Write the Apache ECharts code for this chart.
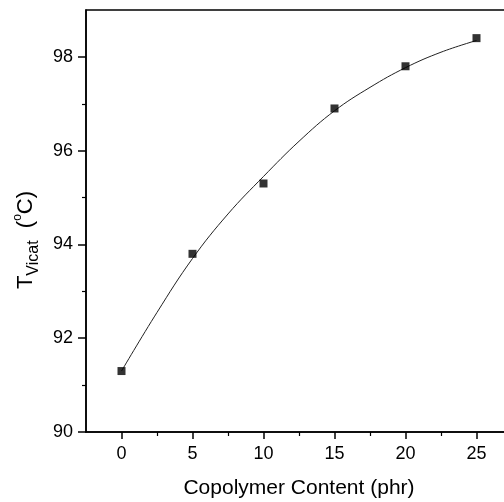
<!DOCTYPE html>
<html>
<head>
<meta charset="utf-8">
<script src="https://cdn.jsdelivr.net/npm/echarts@6/dist/echarts.min.js"></script>
<style>
  html, body { margin: 0; padding: 0; background: #fff; }
  #chart { width: 504px; height: 502px; }
</style>
</head>
<body>
<div id="chart"></div>
<script>
// measured points
const contentPhr = [0, 5, 10, 15, 20, 25];
const vicatTemp = [91.3, 93.8, 95.3, 96.9, 97.8, 98.4];
// fitted curve
const fitPhr = [0, 2.5, 5, 7.5, 10, 12.5, 15, 17.5, 20, 22.5, 25];
const fitTemp = [91.3, 92.55, 93.7, 94.65, 95.45, 96.2, 96.85, 97.35, 97.77, 98.1, 98.35];
// ticks
const xMajor = [0, 5, 10, 15, 20, 25];
const xMinor = [2.5, 7.5, 12.5, 17.5, 22.5];
const yMajor = [90, 92, 94, 96, 98];
const yMinor = [91, 93, 95, 97];

const font = "'Liberation Sans', Arial, sans-serif";

let myChart = echarts.init(document.getElementById("chart"));

let option = {
  backgroundColor: "#fff",
  animation: false,
  grid: {
    left: 86,
    top: 10,
    width: 426, // the right edge of the frame falls outside the picture
    bottom: 70,
    outerBoundsMode: "none",
    show: true,
    borderColor: "#000",
    borderWidth: 1.5
  },
  xAxis: [
    {
      type: "value",
      min: -2.5,
      max: 27.5,
      axisLine: { onZero: false, lineStyle: { color: "#000", width: 1.5 } },
      axisTick: { customValues: xMajor, length: 7, lineStyle: { color: "#000", width: 1.5 } },
      axisLabel: { customValues: xMajor, color: "#000", fontSize: 18, fontFamily: font, margin: 13 },
      splitLine: { show: false },
      name: "Copolymer Content (phr)",
      nameLocation: "middle",
      nameGap: 46,
      nameTextStyle: { color: "#000", fontSize: 21, fontFamily: font }
    },
    {
      type: "value",
      position: "bottom",
      min: -2.5,
      max: 27.5,
      axisLine: { show: false, onZero: false },
      axisTick: { customValues: xMinor, length: 4, lineStyle: { color: "#000", width: 1.2 } },
      axisLabel: { show: false },
      splitLine: { show: false }
    }
  ],
  yAxis: [
    {
      type: "value",
      min: 90,
      max: 99,
      axisLine: { show: true, onZero: false, lineStyle: { color: "#000", width: 1.5 } },
      axisTick: { show: true, customValues: yMajor, length: 8, lineStyle: { color: "#000", width: 1.5 } },
      axisLabel: { customValues: yMajor, color: "#000", fontSize: 18, fontFamily: font, margin: 13 },
      splitLine: { show: false }
    },
    {
      type: "value",
      position: "left",
      min: 90,
      max: 99,
      axisLine: { show: false, onZero: false },
      axisTick: { show: true, customValues: yMinor, length: 4, lineStyle: { color: "#000", width: 1.2 } },
      axisLabel: { show: false },
      splitLine: { show: false }
    }
  ],
  graphic: [
    {
      type: "text",
      x: 27,
      y: 240,
      rotation: Math.PI / 2,
      style: {
        text: "{t|T}{s|Vicat}{t|  (}{o|o}{t|C)}",
        align: "center",
        verticalAlign: "middle",
        fill: "#000",
        rich: {
          t: { fontSize: 22, fontFamily: font, verticalAlign: "bottom", padding: [0, 0, 5, 0] },
          s: { fontSize: 16, fontFamily: font, verticalAlign: "bottom", padding: [0, 0, 0, 0] },
          o: { fontSize: 12, fontFamily: font, verticalAlign: "bottom", padding: [0, 0, 18, 0] }
        }
      }
    }
  ],
  series: [
    {
      name: "fit",
      type: "line",
      data: fitPhr.map((x, i) => [x, fitTemp[i]]),
      smooth: 0.4,
      showSymbol: false,
      lineStyle: { color: "#222", width: 1 },
      z: 2
    },
    {
      name: "T_Vicat",
      type: "scatter",
      data: contentPhr.map((x, i) => [x, vicatTemp[i]]),
      symbol: "rect",
      symbolSize: 8,
      itemStyle: { color: "#000" },
      z: 3
    }
  ]
};

myChart.setOption(option);
</script>
</body>
</html>
